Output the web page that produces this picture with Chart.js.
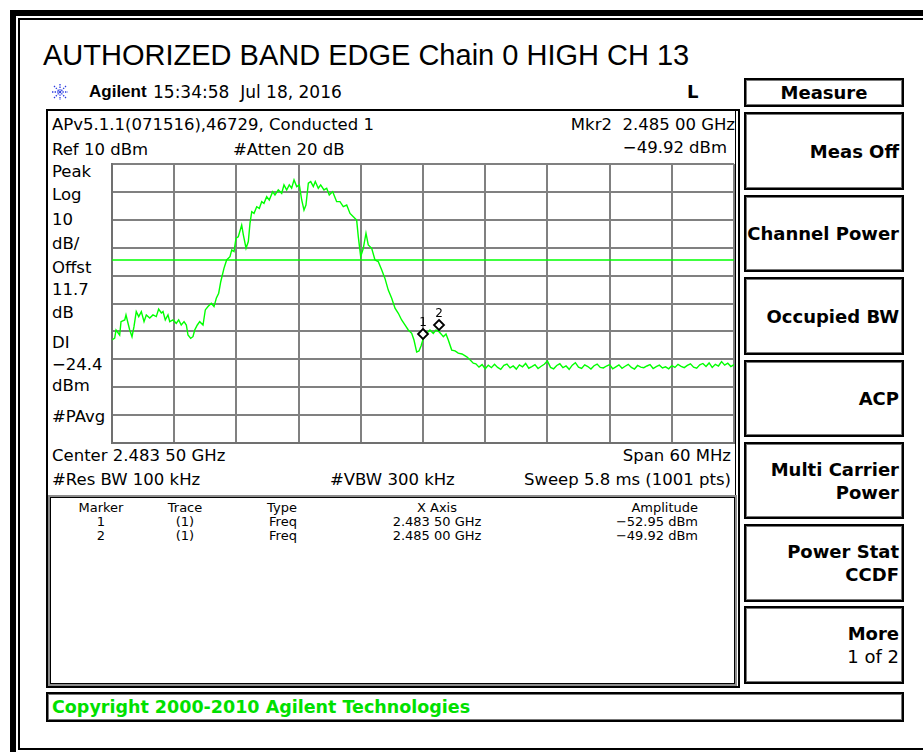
<!DOCTYPE html>
<html>
<head>
<meta charset="utf-8">
<title>AUTHORIZED BAND EDGE Chain 0 HIGH CH 13</title>
<script src="https://cdn.jsdelivr.net/npm/chart.js@4.4.1/dist/chart.umd.min.js"></script>
<style>
  html, body { margin: 0; padding: 0; background: #fff; }
  body { width: 923px; height: 752px; position: relative; overflow: hidden; font-family: 'DejaVu Sans', sans-serif; color: #000; }
  .abs { position: absolute; white-space: pre; }
  .txt { font-size: 16.5px; line-height: 20px; }
  .small { font-size: 13px; line-height: 14px; }
  .frame-thick { position: absolute; left: 10px; top: 10px; width: 940px; height: 760px; border-left: 6px solid #000; border-top: 6px solid #000; }
  .frame-thin { position: absolute; left: 18px; top: 18px; width: 930px; height: 728px; border-left: 2px solid #000; border-top: 2px solid #000; border-bottom: 2px solid #000; }
  .title { font-family: 'Liberation Sans', Arial, sans-serif; font-size: 29px; line-height: 29px; left: 43px; top: 41px; }
  .panel { position: absolute; left: 46px; top: 109px; width: 694px; height: 579px; box-sizing: border-box; border: 2px solid #000; box-shadow: inset -2px 0 0 #fff, inset -3px 0 0 #000; }
  .mtable { position: absolute; left: 48px; top: 495px; width: 689px; height: 191px; box-sizing: border-box; border: 2px solid #8c8c8c; box-shadow: inset 0 0 0 1px #000; }
  .key { position: absolute; left: 744px; width: 160px; box-sizing: border-box; border: 2px solid #000; box-shadow: inset 0 0 0 1px #777;
         display: flex; flex-direction: column; justify-content: center; align-items: flex-end; padding-right: 3px;
         font-weight: bold; font-size: 18px; line-height: 23px; white-space: pre; }
  .key .reg { font-weight: normal; }
  .copy { position: absolute; left: 46px; top: 692px; width: 858px; height: 30px; box-sizing: border-box; border: 2px solid #000;
          box-shadow: inset 0 0 0 1px #777; color: #00e000; font-weight: bold; font-size: 17.5px; line-height: 26px; padding-left: 4px; white-space: pre; }
  #sa { position: absolute; left: 111px; top: 163px; }
</style>
</head>
<body>
<div class="frame-thick"></div>
<div class="frame-thin"></div>

<div class="abs title">AUTHORIZED BAND EDGE Chain 0 HIGH CH 13</div>

<!-- agilent spark -->
<svg class="abs" style="left:51px;top:83px" width="18" height="18" viewBox="0 0 18 18">
  <g stroke="#2a3be0" stroke-width="1.3" stroke-dasharray="1.4 1.2">
    <line x1="9" y1="1" x2="9" y2="17"/><line x1="1" y1="9" x2="17" y2="9"/>
    <line x1="3" y1="3" x2="15" y2="15"/><line x1="15" y1="3" x2="3" y2="15"/>
  </g>
</svg>
<div class="abs" style="left:89px;top:82px;font-family:'Liberation Sans',Arial,sans-serif;font-weight:bold;font-size:17px;line-height:20px">Agilent</div>
<div class="abs" style="left:153px;top:82px;font-size:17px;line-height:20px">15:34:58  Jul 18, 2016</div>
<div class="abs" style="left:687px;top:82px;font-size:18px;line-height:20px;font-weight:bold">L</div>

<!-- softkeys -->
<div class="key" style="top:78px;height:29px;align-items:center;padding-right:0">Measure</div>
<div class="key" style="top:112px;height:78px">Meas Off</div>
<div class="key" style="top:195px;height:77px">Channel Power</div>
<div class="key" style="top:277px;height:78px">Occupied BW</div>
<div class="key" style="top:360px;height:77px">ACP</div>
<div class="key" style="top:442px;height:77px"><span>Multi Carrier</span><span>Power</span></div>
<div class="key" style="top:524px;height:78px"><span>Power Stat</span><span>CCDF</span></div>
<div class="key" style="top:606px;height:78px"><span>More</span><span class="reg">1 of 2</span></div>

<!-- screen -->
<div class="panel"></div>
<div class="abs txt" style="left:52px;top:115px">APv5.1.1(071516),46729, Conducted 1</div>
<div class="abs txt" style="right:188px;top:115px">Mkr2  2.485 00 GHz</div>
<div class="abs txt" style="left:52px;top:140px">Ref 10 dBm</div>
<div class="abs txt" style="left:233px;top:140px">#Atten 20 dB</div>
<div class="abs txt" style="right:196px;top:138px">−49.92 dBm</div>

<div class="abs txt" style="left:52px;top:162px">Peak</div>
<div class="abs txt" style="left:52px;top:185px">Log</div>
<div class="abs txt" style="left:52px;top:210px">10</div>
<div class="abs txt" style="left:52px;top:234px">dB/</div>
<div class="abs txt" style="left:52px;top:258px">Offst</div>
<div class="abs txt" style="left:52px;top:280px">11.7</div>
<div class="abs txt" style="left:52px;top:303px">dB</div>
<div class="abs txt" style="left:52px;top:333px">DI</div>
<div class="abs txt" style="left:52px;top:355px">−24.4</div>
<div class="abs txt" style="left:52px;top:376px">dBm</div>
<div class="abs txt" style="left:52px;top:407px">#PAvg</div>

<canvas id="sa" width="624" height="281"></canvas>

<div class="abs txt" style="left:52px;top:446px">Center 2.483 50 GHz</div>
<div class="abs txt" style="right:192px;top:446px">Span 60 MHz</div>
<div class="abs txt" style="left:52px;top:470px">#Res BW 100 kHz</div>
<div class="abs txt" style="left:330px;top:470px">#VBW 300 kHz</div>
<div class="abs txt" style="right:192px;top:470px">Sweep 5.8 ms (1001 pts)</div>

<div class="mtable"></div>
<div class="abs small" style="left:61px;top:501px;width:80px;text-align:center">Marker</div>
<div class="abs small" style="left:145px;top:501px;width:80px;text-align:center">Trace</div>
<div class="abs small" style="left:242px;top:501px;width:80px;text-align:center">Type</div>
<div class="abs small" style="left:377px;top:501px;width:120px;text-align:center">X Axis</div>
<div class="abs small" style="right:225px;top:501px">Amplitude</div>
<div class="abs small" style="left:61px;top:515px;width:80px;text-align:center">1</div>
<div class="abs small" style="left:145px;top:515px;width:80px;text-align:center">(1)</div>
<div class="abs small" style="left:243px;top:515px;width:80px;text-align:center">Freq</div>
<div class="abs small" style="left:377px;top:515px;width:120px;text-align:center">2.483 50 GHz</div>
<div class="abs small" style="right:225px;top:515px">−52.95 dBm</div>
<div class="abs small" style="left:61px;top:529px;width:80px;text-align:center">2</div>
<div class="abs small" style="left:145px;top:529px;width:80px;text-align:center">(1)</div>
<div class="abs small" style="left:243px;top:529px;width:80px;text-align:center">Freq</div>
<div class="abs small" style="left:377px;top:529px;width:120px;text-align:center">2.485 00 GHz</div>
<div class="abs small" style="right:225px;top:529px">−49.92 dBm</div>

<div class="copy">Copyright 2000-2010 Agilent Technologies</div>

<script>
// sweep settings (MHz / dBm)
const startMHz = 2453.5;
const stopMHz = 2513.5;
const stepMHz = 6;          // 10 divisions
const refLevelDbm = 10;
const bottomLevelDbm = -90; // 10 dB/div
const stepDb = 10;
const displayLineDbm = -24.4;

// trace 1
const traceFreqMHz = [
  2453.50, 2453.76, 2453.89, 2454.24, 2454.37, 2454.73, 2454.85, 2455.04, 2455.21, 2455.43,
  2455.62, 2455.84, 2456.08, 2456.33, 2456.59, 2456.81, 2457.14, 2457.45, 2457.77, 2458.00,
  2458.26, 2458.42, 2458.64, 2458.90, 2459.07, 2459.38, 2459.70, 2459.93, 2460.18, 2460.45,
  2460.67, 2460.83, 2461.09, 2461.31, 2461.48, 2461.73, 2461.96, 2462.28, 2462.50, 2462.76,
  2463.08, 2463.34, 2463.56, 2463.79, 2463.99, 2464.30, 2464.56, 2464.88, 2465.05, 2465.27,
  2465.46, 2465.68, 2466.01, 2466.17, 2466.43, 2466.65, 2466.81, 2466.98, 2467.20, 2467.46,
  2467.71, 2467.94, 2468.16, 2468.42, 2468.67, 2469.00, 2469.22, 2469.54, 2469.87, 2470.09,
  2470.35, 2470.60, 2470.83, 2471.06, 2471.32, 2471.57, 2471.80, 2472.02, 2472.21, 2472.44,
  2472.67, 2472.92, 2473.11, 2473.40, 2473.63, 2473.95, 2474.21, 2474.46, 2474.79, 2475.17,
  2475.49, 2475.81, 2476.14, 2476.46, 2476.78, 2477.10, 2477.26, 2477.49, 2477.74, 2478.00,
  2478.22, 2478.55, 2478.87, 2479.19, 2479.52, 2479.83, 2480.15, 2480.48, 2480.80, 2481.12,
  2481.44, 2481.76, 2482.08, 2482.41, 2482.63, 2482.89, 2483.11, 2483.31, 2483.50, 2483.86,
  2484.17, 2484.49, 2484.75, 2485.00, 2485.24, 2485.46, 2485.72, 2485.94, 2486.27, 2486.59,
  2486.90, 2487.26, 2487.72, 2488.03, 2488.35,
  2488.6, 2488.9, 2489.2, 2489.5, 2489.8, 2490.1, 2490.4, 2490.7, 2491.0, 2491.3,
  2491.6, 2491.9, 2492.2, 2492.5, 2492.8, 2493.1, 2493.4, 2493.7, 2494.0, 2494.3,
  2494.6, 2494.9, 2495.2, 2495.5, 2495.8, 2496.1, 2496.4, 2496.7, 2497.0, 2497.3,
  2497.6, 2497.9, 2498.2, 2498.5, 2498.8, 2499.1, 2499.4, 2499.7, 2500.0, 2500.3,
  2500.6, 2500.9, 2501.2, 2501.5, 2501.8, 2502.1, 2502.4, 2502.7, 2503.0, 2503.3,
  2503.6, 2503.9, 2504.2, 2504.5, 2504.8, 2505.1, 2505.4, 2505.7, 2506.0, 2506.3,
  2506.6, 2506.9, 2507.2, 2507.5, 2507.8, 2508.1, 2508.4, 2508.7, 2509.0, 2509.3,
  2509.6, 2509.9, 2510.2, 2510.5, 2510.8, 2511.1, 2511.4, 2511.7, 2512.0, 2512.3,
  2512.6, 2512.9, 2513.2, 2513.5
];
const traceDbm = [
  -53.1, -52.4, -49.5, -51.3, -46.5, -45.9, -44.1, -47.0, -49.5, -51.9,
  -48.3, -42.9, -44.7, -42.9, -46.5, -44.1, -45.2, -44.1, -44.7, -42.0,
  -43.4, -42.9, -45.9, -44.1, -46.5, -45.9, -47.1, -45.9, -47.7, -46.5,
  -47.7, -51.3, -52.5, -51.9, -49.5, -47.7, -46.5, -47.7, -42.3, -41.1,
  -39.9, -41.1, -38.1, -36.3, -32.2, -27.4, -24.4, -23.2, -20.8, -21.4,
  -16.6, -16.1, -11.9, -15.4, -20.2, -17.8, -11.3, -7.1, -7.7, -5.3,
  -5.9, -3.5, -4.1, -1.7, -2.9, 0.1, -1.1, 0.7, -0.5, 2.5,
  0.7, 2.5, 1.3, 4.3, 1.9, 2.5, -2.9, -6.5, -4.7, 3.1,
  3.7, 1.9, 3.7, 1.3, 2.5, 0.7, 1.3, -1.1, 0.1, -3.5,
  -3.5, -5.3, -4.7, -7.7, -8.9, -10.1, -16.1, -23.2, -20.2, -14.8,
  -19.0, -20.2, -24.4, -25.0, -28.0, -31.0, -35.2, -38.1, -41.7, -43.5,
  -45.9, -47.7, -49.5, -50.7, -53.1, -57.4, -57.0, -55.2, -52.95, -50.7,
  -49.5, -50.7, -49.5, -49.92, -50.9, -51.9, -50.9, -53.1, -56.7, -57.0,
  -57.8, -58.1, -59.1, -60.2, -61.4,
  -61.6, -62.8, -61.9, -63.4, -62.1, -63.0, -61.8, -62.9, -63.6, -62.2,
  -61.7, -63.1, -62.4, -63.5, -62.0, -62.7, -61.5, -63.2, -62.6, -61.9,
  -63.3, -62.5, -61.8, -60.6, -62.9, -63.4, -62.2, -61.6, -63.0, -62.4,
  -63.6, -62.1, -61.2, -62.8, -63.3, -62.0, -62.6, -63.5, -62.3, -61.7,
  -62.9, -63.1, -62.4, -61.9, -63.4, -62.7, -62.0, -63.2, -62.5, -61.8,
  -62.9, -63.5, -62.2, -62.8, -63.0, -62.4, -61.9, -63.3, -62.6, -62.1,
  -63.1, -62.7, -63.4, -62.3, -62.9, -61.8, -62.5, -63.0, -62.2, -61.6,
  -62.8, -63.2, -62.0, -61.5, -62.6, -61.3, -62.9, -61.8, -62.4, -60.8,
  -62.1, -61.4, -62.6, -61.9
];

// markers
const markerNames = ['1', '2'];
const markerFreqMHz = [2483.5, 2485.0];
const markerDbm = [-52.95, -49.92];

const traceGreen = '#00ff00';

// diamonds sit a little above the trace point, number above the diamond
const markerPlugin = {
  id: 'markers',
  afterDatasetsDraw(chart) {
    const { ctx, scales } = chart;
    ctx.save();
    ctx.lineWidth = 1.8;
    ctx.strokeStyle = '#000';
    ctx.font = '12px "DejaVu Sans"';
    ctx.textAlign = 'center';
    ctx.textBaseline = 'alphabetic';
    markerFreqMHz.forEach((f, i) => {
      const px = Math.round(scales.x.getPixelForValue(f));
      const py = Math.round(scales.y.getPixelForValue(markerDbm[i])) - 6;
      ctx.beginPath();
      ctx.moveTo(px, py - 5);
      ctx.lineTo(px + 5, py);
      ctx.lineTo(px, py + 5);
      ctx.lineTo(px - 5, py);
      ctx.closePath();
      ctx.fillStyle = '#fff';
      ctx.fill();
      ctx.stroke();
      ctx.fillStyle = '#000';
      ctx.fillText(markerNames[i], px, py - 8);
    });
    ctx.restore();
  }
};

document.addEventListener('DOMContentLoaded', () => {
  const canvas = document.getElementById('sa').getContext('2d');

  new Chart(canvas, {
    type: 'line',
    data: {
      datasets: [{
        data: traceFreqMHz.map((f, i) => ({ x: f, y: traceDbm[i] })),
        borderColor: traceGreen,
        borderWidth: 1.4,
        pointRadius: 0,
        tension: 0
      }, {
        // display line
        data: [{ x: startMHz, y: displayLineDbm }, { x: stopMHz, y: displayLineDbm }],
        borderColor: traceGreen,
        borderWidth: 1.3,
        pointRadius: 0
      }]
    },
    options: {
      responsive: false,
      devicePixelRatio: 1,
      animation: false,
      layout: { padding: 1 },
      plugins: {
        legend: { display: false },
        tooltip: { enabled: false }
      },
      scales: {
        x: {
          type: 'linear',
          min: startMHz,
          max: stopMHz,
          ticks: { display: false, stepSize: stepMHz },
          grid: { color: '#808080', lineWidth: 2, drawTicks: false },
          border: { color: '#707070', width: 2 }
        },
        y: {
          min: bottomLevelDbm,
          max: refLevelDbm,
          ticks: { display: false, stepSize: stepDb },
          grid: { color: '#808080', lineWidth: 2, drawTicks: false },
          border: { color: '#707070', width: 2 }
        }
      }
    },
    plugins: [markerPlugin]
  });
});
</script>
</body>
</html>
